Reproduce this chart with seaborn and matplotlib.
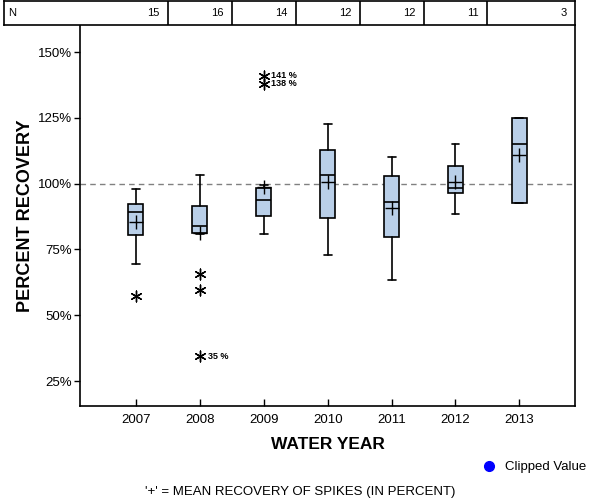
import pandas as pd
import seaborn as sns
import matplotlib.pyplot as plt
from matplotlib.lines import Line2D

# box statistics (percent recovery)
years = ['2007', '2008', '2009', '2010', '2011', '2012', '2013']
n_obs = [15, 16, 14, 12, 12, 11, 3]
whisker_lo = [69.6, 81.0, 81.0, 73.0, 63.5, 88.5, 92.7]
q1 = [80.6, 81.3, 87.8, 87.0, 79.8, 96.5, 92.7]
median = [89.3, 84.0, 93.8, 103.4, 93.2, 98.4, 115.0]
q3 = [92.3, 91.6, 98.4, 112.8, 102.8, 106.7, 124.9]
whisker_hi = [98.0, 103.3, 99.4, 122.6, 110.0, 115.0, 124.9]
mean = [85.3, 81.4, 98.6, 100.6, 90.8, 100.6, 111.0]

outlier_year = ['2007', '2008', '2008', '2008', '2009', '2009']
outlier_val = [57.2, 65.5, 59.7, 34.5, 141.0, 138.0]
labelled = [(2, 141.0, '141 %'), (2, 138.0, '138 %'), (1, 34.5, '35 %')]

sns.set_style('white')
plt.rcParams['font.family'] = ['Liberation Sans', 'DejaVu Sans']
plt.rcParams['text.color'] = 'black'
plt.rcParams['axes.labelcolor'] = 'black'
plt.rcParams['xtick.color'] = 'black'
plt.rcParams['ytick.color'] = 'black'

fig = plt.figure(figsize=(6, 5), dpi=100)
ax = fig.add_axes([80 / 600, 94 / 500, 495 / 600, 381 / 500])

stats = []
for i in range(len(years)):
    stats.append({'whislo': whisker_lo[i], 'q1': q1[i], 'med': median[i],
                  'q3': q3[i], 'whishi': whisker_hi[i], 'fliers': []})
pos = list(range(len(years)))
ax.bxp(stats, positions=pos, widths=0.235, patch_artist=True, showfliers=False,
       boxprops=dict(facecolor='#B9CFE8', edgecolor='black', linewidth=1.2),
       medianprops=dict(color='black', linewidth=1.2),
       whiskerprops=dict(color='black', linewidth=1.2),
       capprops=dict(color='black', linewidth=1.2),
       capwidths=0.125, zorder=2)

ax.axhline(100, color='#808080', linestyle=(0, (4, 3)), linewidth=1, zorder=1)

means = pd.DataFrame({'x': pos, 'mean': mean})
sns.scatterplot(data=means, x='x', y='mean', marker='+', s=95, color='black',
                linewidth=1.0, ax=ax, zorder=4, legend=False)

outl = pd.DataFrame({'x': [years.index(y) for y in outlier_year], 'val': outlier_val})
sns.scatterplot(data=outl, x='x', y='val', marker=(6, 2, 0), s=60, color='black',
                linewidth=1.0, ax=ax, zorder=4, legend=False)
for xi, yv, txt in labelled:
    ax.text(xi + 0.12, yv, txt, fontsize=6.5, fontweight='bold', va='center', ha='left')

ax.set_xlim(-0.876, 6.87)
ax.set_ylim(15.5, 160.3)
ax.set_xticks(pos)
ax.set_xticklabels(years, fontsize=9.5)
ax.set_yticks([25, 50, 75, 100, 125, 150])
ax.set_yticklabels(['25%', '50%', '75%', '100%', '125%', '150%'], fontsize=9.5)
ax.tick_params(axis='x', direction='in', length=5, width=1, pad=6, bottom=True)
ax.tick_params(axis='y', direction='out', length=4, width=1, pad=2, left=True)
for s in ['left', 'bottom', 'right']:
    ax.spines[s].set_color('black')
    ax.spines[s].set_linewidth(1.2)
ax.spines['top'].set_visible(False)
ax.set_xlabel('WATER YEAR', fontsize=12.5, fontweight='bold', labelpad=8)
ax.set_ylabel('PERCENT RECOVERY', fontsize=13, fontweight='bold')
ax.yaxis.set_label_coords(-(80 - 34) / 495, 0.5)

# N table above the plot
tab = fig.add_axes([4 / 600, 475 / 500, 571 / 600, 24 / 500])
tab.set_xlim(-2.066, 6.87)
tab.set_ylim(0, 1)
tab.set_xticks([])
tab.set_yticks([])
for s in tab.spines.values():
    s.set_color('black')
    s.set_linewidth(1.2)
    s.set_visible(True)
for b in [0.5, 1.5, 2.5, 3.5, 4.5, 5.5]:
    tab.axvline(b, color='black', linewidth=1.2)
tab.text(-2.0, 0.5, 'N', fontsize=8, va='center', ha='left')
rights = [0.5, 1.5, 2.5, 3.5, 4.5, 5.5, 6.87]
for r, n in zip(rights, n_obs):
    tab.text(r - 0.13, 0.5, str(n), fontsize=8, va='center', ha='right')

# legend and footnote
fig.add_artist(Line2D([489 / 600], [1 - 466 / 500], marker='o', color='blue',
                      markersize=7, linestyle='none'))
fig.text(505 / 600, 1 - 467 / 500, 'Clipped Value', fontsize=9.5, va='center', ha='left')
fig.text(300 / 600, 1 - 492 / 500, "'+' = MEAN RECOVERY OF SPIKES (IN PERCENT)",
         fontsize=9.5, va='center', ha='center')

fig.savefig('out.png', dpi=100)
